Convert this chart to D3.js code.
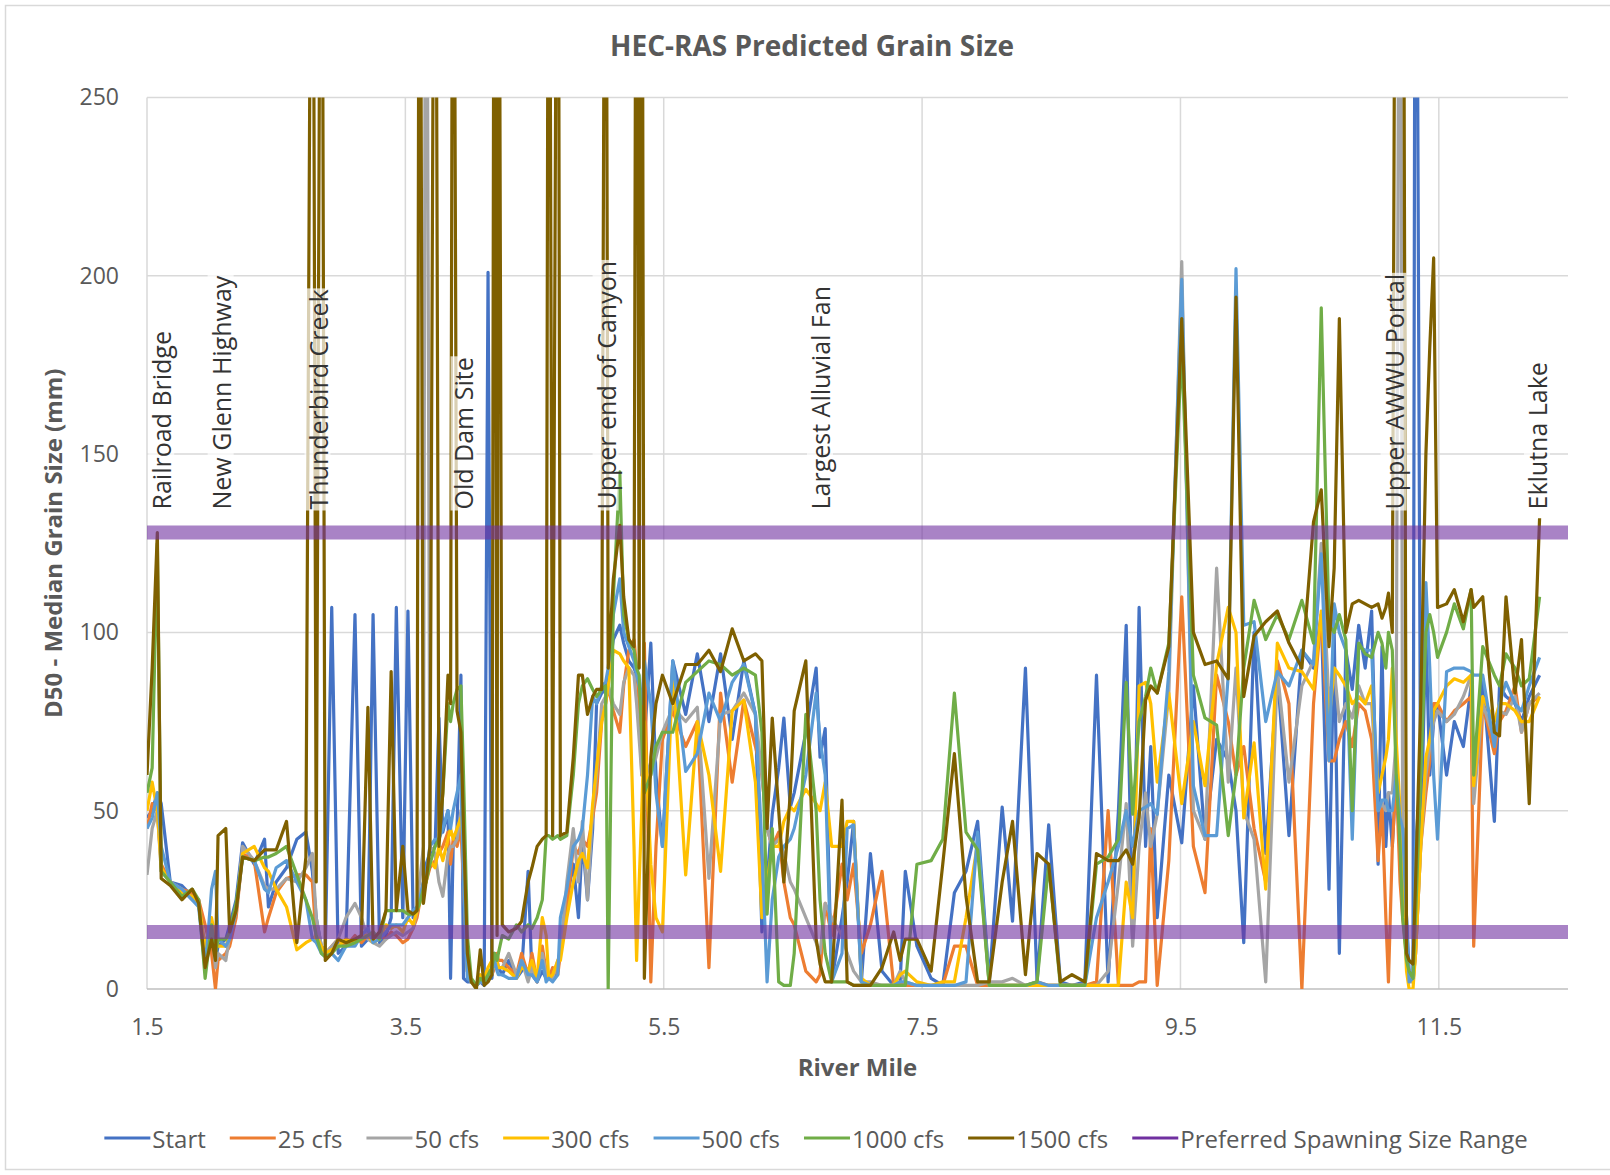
<!DOCTYPE html>
<html>
<head>
<meta charset="utf-8">
<script src="https://cdn.jsdelivr.net/npm/d3@7"></script>
<style>
  body { margin: 0; background: #fff; }
  svg text { font-family: "Liberation Sans Narrow", "Open Sans", sans-serif; }
</style>
</head>
<body>
<svg id="chart" width="1610" height="1175"></svg>
<script>
// cross sections (river mile)
const riverMile = [
  1.50, 1.54, 1.58, 1.61, 1.68, 1.77, 1.85, 1.90, 1.95, 2.00,
  2.03, 2.05, 2.11, 2.14, 2.19, 2.24, 2.33, 2.41, 2.44, 2.50,
  2.58, 2.66, 2.73, 2.78, 2.81, 2.85, 2.88, 2.93, 2.98, 3.04,
  3.11, 3.16, 3.21, 3.25, 3.30, 3.35, 3.39, 3.43, 3.48, 3.52,
  3.56, 3.59, 3.61, 3.64, 3.66, 3.69, 3.73, 3.76, 3.79, 3.83,
  3.85, 3.87, 3.90, 3.93, 3.95, 3.98, 4.01, 4.05, 4.08, 4.11,
  4.14, 4.17, 4.19, 4.21, 4.22, 4.25, 4.30, 4.36, 4.40, 4.45,
  4.48, 4.52, 4.56, 4.59, 4.61, 4.64, 4.68, 4.70, 4.75, 4.80,
  4.84, 4.87, 4.91, 4.95, 4.98, 5.02, 5.05, 5.07, 5.11, 5.16,
  5.19, 5.23, 5.27, 5.29, 5.31, 5.33, 5.35, 5.40, 5.44, 5.49,
  5.57, 5.67, 5.76, 5.85, 5.94, 6.03, 6.12, 6.21, 6.26, 6.30,
  6.34, 6.39, 6.43, 6.48, 6.51, 6.60, 6.68, 6.71, 6.75, 6.80,
  6.88, 6.92, 6.97, 7.03, 7.10, 7.19, 7.28, 7.33, 7.37, 7.46,
  7.57, 7.66, 7.75, 7.84, 7.93, 8.02, 8.12, 8.20, 8.30, 8.39,
  8.48, 8.57, 8.66, 8.76, 8.85, 8.94, 9.02, 9.08, 9.13, 9.18,
  9.23, 9.27, 9.32, 9.41, 9.51, 9.60, 9.69, 9.78, 9.87, 9.93,
  9.99, 10.07, 10.16, 10.25, 10.34, 10.44, 10.53, 10.59, 10.65, 10.69,
  10.73, 10.78, 10.83, 10.88, 10.93, 10.98, 11.03, 11.06, 11.09, 11.11,
  11.14, 11.17, 11.20, 11.22, 11.25, 11.27, 11.30, 11.32, 11.36, 11.40,
  11.43, 11.46, 11.49, 11.56, 11.62, 11.69, 11.75, 11.77, 11.84, 11.93,
  11.97, 12.02, 12.09, 12.14, 12.20, 12.28
];

const startVals = [
  48, 50, 55, 52, 30, 29, 26, 25, 10, 15,
  8, 12, 14, 18, 25, 41, 35, 42, 23, 30,
  34, 42, 44, 33, 20, 12, 10, 107, 10, 12,
  105, 12, 14, 105, 13, 15, 20, 107, 20, 106,
  20, 21, 25, 30, 35, 38, 40, 76, 44, 50,
  3, 40, 45, 88, 3, 2, 2, 1, 2, 1,
  201, 3, 10, 8, 6, 4, 8, 3, 5, 33,
  4, 2, 5, 3, 3, 3, 5, 12, 25, 35,
  20, 42, 25, 45, 80, 83, 84, 88, 98, 102,
  97, 92, 90, 88, 85, 80, 70, 97, 60, 40,
  92, 77, 94, 75, 94, 70, 92, 77, 16, 30,
  49, 62, 76, 51, 55, 72, 90, 65, 73, 2,
  20, 30, 47, 2, 38, 5, 1, 2, 33, 12,
  3, 1, 27, 33, 47, 2, 51, 19, 90, 2,
  46, 2, 1, 2, 88, 2, 50, 102, 14, 107,
  40, 68, 20, 60, 41, 85, 42, 70, 64, 50,
  13, 100, 38, 89, 43, 95, 90, 105, 28, 100,
  10, 95, 84, 102, 90, 106, 35, 96, 40, 55,
  40, 60, 50, 45, 20, 5, 3, 400, 42, 100,
  60, 75, 80, 60, 75, 68, 85, 60, 87, 47,
  85, 82, 80, 75, 82, 88
];

const cfs25 = [
  45, 52, 50, 35, 30, 28, 27, 25, 18, 10,
  0, 8, 10, 12, 20, 38, 36, 16, 20, 27,
  31, 32, 32, 30, 14, 12, 10, 12, 14, 12,
  15, 13, 15, 14, 15, 14, 16, 15, 13, 14,
  17, 20, 24, 28, 30, 34, 36, 38, 40, 44,
  35, 42, 40, 45, 30, 5, 2, 1, 3, 2,
  5, 4, 6, 10, 8, 8, 6, 4, 10, 4,
  10, 2, 12, 5, 3, 6, 4, 10, 22, 40,
  38, 42, 40, 48, 55, 75, 80, 85, 78, 72,
  85, 95, 98, 90, 80, 60, 97, 2, 40, 70,
  78, 68, 75, 6, 83, 58, 81, 68, 60, 45,
  40, 44, 30, 20, 18, 5, 2, 4, 24, 15,
  35, 25, 35, 10, 18, 33, 1, 2, 1, 1,
  1, 1, 12, 12, 1, 1, 1, 1, 1, 2,
  1, 1, 1, 1, 2, 50, 1, 1, 1, 2,
  2, 45, 1, 36, 110, 40, 27, 88, 75, 60,
  68, 45, 30, 92, 80, 0, 80, 105, 64, 64,
  70, 75, 68, 80, 78, 70, 36, 52, 20, 2,
  40, 60, 30, 20, 10, 3, 2, 10, 40, 55,
  64, 80, 80, 75, 78, 80, 82, 12, 80, 66,
  75, 78, 85, 72, 80, 82
];

const cfs50 = [
  32, 45, 50, 33, 30, 28, 25, 24, 8, 18,
  6, 10, 8, 15, 22, 40, 36, 29, 28, 28,
  31, 30, 34, 38, 20, 12, 10, 12, 14, 20,
  24, 20, 14, 13, 12, 14, 15, 16, 15, 16,
  17, 22, 30, 40, 400, 40, 38, 30, 26, 38,
  40, 40, 42, 50, 45, 5, 2, 1, 2, 2,
  4, 4, 8, 6, 6, 6, 10, 4, 8, 2,
  6, 2, 10, 4, 3, 3, 8, 10, 30, 45,
  30, 47, 25, 50, 60, 80, 82, 85, 80, 77,
  86, 90, 88, 80, 70, 60, 65, 60, 65, 72,
  79, 75, 79, 31, 77, 78, 83, 77, 60, 45,
  40, 42, 38, 30, 28, 20, 13, 10, 24, 20,
  15, 10, 5, 2, 2, 1, 1, 5, 2, 1,
  1, 1, 1, 1, 1, 2, 2, 3, 1, 1,
  1, 1, 1, 1, 1, 5, 30, 52, 12, 40,
  55, 40, 49, 83, 204, 50, 42, 118, 58, 90,
  50, 42, 2, 89, 58, 85, 92, 125, 80, 90,
  75, 80, 76, 85, 80, 80, 50, 52, 50, 55,
  55, 70, 400, 40, 10, 2, 2, 10, 40, 60,
  68, 75, 78, 75, 77, 82, 88, 52, 80, 70,
  78, 77, 82, 72, 80, 83
];

const cfs300 = [
  50, 58, 50, 34, 30, 27, 26, 24, 12, 20,
  14, 12, 12, 15, 22, 38, 40, 34, 33, 28,
  23, 11, 13, 14, 15, 12, 10, 11, 12, 14,
  13, 15, 15, 13, 14, 18, 17, 18, 16, 20,
  18, 22, 24, 28, 30, 36, 34, 40, 36, 42,
  45, 42, 45, 48, 40, 5, 2, 1, 4, 3,
  6, 8, 6, 8, 6, 6, 5, 3, 6, 5,
  8, 3, 20, 15, 3, 4, 8, 8, 20, 30,
  36, 38, 34, 52, 62, 75, 80, 85, 95, 94,
  92, 90, 40, 8, 30, 50, 75, 35, 20, 16,
  90, 32, 75, 60, 33, 78, 81, 58, 20, 30,
  40, 40, 47, 51, 50, 56, 52, 50, 58, 40,
  40, 47, 47, 3, 1, 1, 1, 4, 5, 2,
  1, 2, 2, 20, 41, 1, 1, 1, 1, 1,
  1, 1, 1, 1, 1, 1, 1, 30, 20, 85,
  86, 80, 58, 83, 52, 75, 57, 91, 107, 100,
  48, 69, 28, 97, 90, 89, 84, 106, 75, 90,
  88, 85, 80, 82, 80, 85, 55, 60, 65, 70,
  90, 70, 50, 30, 5, 0, 0, 10, 40, 65,
  70, 78, 80, 85, 87, 86, 88, 57, 82, 75,
  80, 80, 78, 75, 75, 82
];

const cfs500 = [
  45, 48, 55, 40, 30, 28, 25, 23, 5, 28,
  33, 14, 12, 14, 22, 37, 36, 28, 27, 34,
  36, 30, 25, 14, 13, 10, 9, 10, 8, 12,
  12, 15, 17, 13, 14, 16, 18, 18, 18, 20,
  22, 23, 25, 30, 32, 40, 42, 42, 45, 50,
  45, 50, 55, 60, 30, 3, 2, 1, 2, 2,
  3, 5, 8, 5, 4, 4, 3, 3, 8, 4,
  4, 2, 8, 2, 3, 2, 4, 20, 28, 40,
  42, 45, 60, 82, 80, 85, 86, 90, 105, 115,
  100, 96, 92, 88, 85, 80, 92, 80, 55, 40,
  92, 61, 66, 83, 75, 86, 91, 77, 40, 2,
  25, 37, 40, 42, 45, 60, 83, 70, 60, 2,
  10, 45, 46, 2, 1, 1, 1, 2, 2, 1,
  1, 1, 1, 2, 44, 1, 1, 1, 1, 2,
  1, 1, 1, 1, 20, 30, 40, 50, 40, 50,
  51, 52, 49, 89, 199, 57, 43, 43, 88, 202,
  102, 103, 75, 89, 85, 95, 91, 122, 64, 108,
  100, 95, 42, 96, 95, 95, 50, 53, 53, 50,
  50, 60, 48, 45, 20, 2, 3, 40, 60, 114,
  90, 60, 42, 89, 90, 90, 89, 88, 88, 68,
  80, 86, 80, 78, 85, 93
];

const cfs1000 = [
  55, 62, 125, 33, 30, 26, 28, 25, 3, 18,
  10, 14, 14, 16, 24, 37, 36, 37, 37, 38,
  40, 32, 25, 20, 15, 10, 9, 10, 12, 12,
  13, 14, 15, 16, 14, 22, 22, 22, 22, 21,
  21, 22, 24, 28, 30, 35, 40, 42, 55, 80,
  75, 80, 84, 85, 60, 15, 3, 1, 3, 2,
  4, 6, 10, 8, 10, 15, 14, 18, 16, 18,
  17, 20, 25, 43, 43, 42, 43, 42, 43, 60,
  80, 85, 87, 84, 82, 84, 85, 0, 110, 145,
  105, 98, 95, 90, 88, 70, 55, 60, 68, 72,
  72, 86, 89, 92, 91, 88, 90, 88, 72, 21,
  45, 2, 1, 1, 10, 77, 50, 25, 10, 2,
  2, 2, 1, 1, 1, 1, 1, 1, 1, 35,
  36, 42, 83, 44, 39, 1, 1, 1, 1, 2,
  35, 1, 1, 1, 35, 37, 42, 86, 49, 75,
  82, 90, 83, 97, 180, 88, 76, 74, 43, 60,
  90, 109, 98, 105, 98, 109, 97, 191, 102, 100,
  105, 98, 50, 97, 94, 93, 100, 97, 90, 100,
  95, 60, 40, 20, 8, 5, 3, 20, 60, 100,
  105, 100, 93, 100, 108, 101, 112, 60, 96, 88,
  85, 94, 90, 85, 87, 110
];

const cfs1500 = [
  60, 90, 128, 31, 29, 25, 28, 24, 6, 14,
  8, 43, 45, 16, 22, 37, 36, 39, 39, 39,
  47, 13, 37, 400, 30, 400, 8, 10, 14, 13,
  14, 15, 79, 14, 16, 22, 89, 22, 40, 22,
  21, 22, 400, 24, 30, 40, 400, 40, 55, 88,
  80, 400, 78, 72, 45, 10, 2, 0, 11, 1,
  2, 4, 400, 15, 400, 18, 16, 17, 19, 30,
  34, 40, 42, 43, 400, 43, 400, 43, 44, 65,
  88, 88, 77, 82, 84, 84, 400, 90, 115, 130,
  110, 98, 96, 400, 90, 400, 3, 65, 80, 88,
  80, 91, 91, 95, 89, 101, 92, 94, 92, 45,
  76, 50, 30, 55, 78, 92, 14, 7, 2, 2,
  53, 2, 1, 1, 1, 6, 16, 8, 14, 14,
  5, 35, 66, 26, 2, 2, 30, 47, 4, 38,
  35, 2, 4, 2, 38, 36, 36, 39, 35, 48,
  81, 85, 83, 96, 188, 100, 91, 92, 87, 194,
  82, 99, 103, 106, 97, 90, 131, 140, 96, 118,
  188, 100, 108, 109, 108, 107, 108, 104, 107, 111,
  100, 400, 400, 400, 10, 8, 7, 30, 80, 150,
  180, 205, 107, 108, 112, 103, 112, 107, 110, 72,
  71, 110, 83, 98, 52, 132
];

const spawnRange = [16, 128];
const seriesNames = ["Start", "25 cfs", "50 cfs", "300 cfs", "500 cfs", "1000 cfs", "1500 cfs"];
const spawnName = "Preferred Spawning Size Range";
const yTicks = [0, 50, 100, 150, 200, 250];
const xTicks = [1.5, 3.5, 5.5, 7.5, 9.5, 11.5];
const siteNames = ["Railroad Bridge", "New Glenn Highway", "Thunderbird Creek", "Old Dam Site",
  "Upper end of Canyon", "Largest Alluvial Fan", "Upper AWWU Portal", "Eklutna Lake"];
const siteMiles = [1.61, 2.07, 2.82, 3.95, 5.05, 6.71, 11.15, 12.26];

const seriesColors = ["#4472c4", "#ed7d31", "#a5a5a5", "#ffc000", "#5b9bd5", "#70ad47", "#7f6000"];
const spawnColor = "#7030a0";
const textColor = "#595959";

const allSeries = [startVals, cfs25, cfs50, cfs300, cfs500, cfs1000, cfs1500];

const dims = {
  width: 1610,
  height: 1175,
  margins: { top: 97.5, right: 42, bottom: 186, left: 147 }
};
dims.boundedWidth = dims.width - dims.margins.left - dims.margins.right;
dims.boundedHeight = dims.height - dims.margins.top - dims.margins.bottom;

const svg = d3.select("#chart");

svg.append("rect")
  .attr("x", 5.5).attr("y", 5.5)
  .attr("width", 1620).attr("height", 1164)
  .attr("fill", "none")
  .attr("stroke", "#d9d9d9")
  .attr("stroke-width", 1.5);

const xScale = d3.scaleLinear()
  .domain([1.5, 12.5])
  .range([0, dims.boundedWidth]);

const yScale = d3.scaleLinear()
  .domain([0, 250])
  .range([dims.boundedHeight, 0]);

const graph = svg.append("g")
  .attr("transform", `translate(${dims.margins.left},${dims.margins.top})`);

// gridlines
graph.append("g").selectAll("line")
  .data(yTicks.filter(d => d > 0))
  .join("line")
  .attr("x1", 0).attr("x2", dims.boundedWidth)
  .attr("y1", d => yScale(d)).attr("y2", d => yScale(d))
  .attr("stroke", "#d9d9d9").attr("stroke-width", 1.5);

graph.append("g").selectAll("line")
  .data(xTicks)
  .join("line")
  .attr("x1", d => xScale(d)).attr("x2", d => xScale(d))
  .attr("y1", 0).attr("y2", dims.boundedHeight)
  .attr("stroke", "#d9d9d9").attr("stroke-width", 1.5);

graph.append("line")
  .attr("x1", 0).attr("x2", dims.boundedWidth)
  .attr("y1", yScale(0)).attr("y2", yScale(0))
  .attr("stroke", "#bfbfbf").attr("stroke-width", 1.5);

// axes (labels only)
const yAxis = graph.append("g")
  .call(d3.axisLeft(yScale).tickValues(yTicks).tickSize(0).tickPadding(28));
yAxis.select(".domain").remove();
yAxis.selectAll("text")
  .attr("fill", textColor)
  .style("font-size", "23px");

const xAxis = graph.append("g")
  .attr("transform", `translate(0,${dims.boundedHeight})`)
  .call(d3.axisBottom(xScale).tickValues(xTicks).tickFormat(d3.format(".1f")).tickSize(0).tickPadding(30));
xAxis.select(".domain").remove();
xAxis.selectAll("text")
  .attr("fill", textColor)
  .style("font-size", "23px");

// series lines
svg.append("defs").append("clipPath").attr("id", "plotClip")
  .append("rect")
  .attr("x", 0).attr("y", 0)
  .attr("width", dims.boundedWidth).attr("height", dims.boundedHeight);

const plot = graph.append("g").attr("clip-path", "url(#plotClip)");

const lineGen = d3.line()
  .x(d => xScale(d[0]))
  .y(d => yScale(d[1]));

allSeries.forEach((vals, i) => {
  plot.append("path")
    .datum(riverMile.map((m, j) => [m, vals[j]]))
    .attr("d", lineGen)
    .attr("fill", "none")
    .attr("stroke", seriesColors[i])
    .attr("stroke-width", 3.2)
    .attr("stroke-linejoin", "round");
});

// site labels with translucent backgrounds
const labels = graph.append("g");
siteNames.forEach((name, i) => {
  const g = labels.append("g")
    .attr("transform", `translate(${xScale(siteMiles[i])},412) rotate(-90)`);
  const bg = g.append("rect");
  const t = g.append("text")
    .attr("x", 0).attr("y", 0)
    .attr("dominant-baseline", "central")
    .attr("fill", "#333333")
    .style("font-size", "25px")
    .text(name);
  const len = t.node().getComputedTextLength();
  bg.attr("x", -1).attr("y", -13)
    .attr("width", len + 2).attr("height", 26)
    .attr("fill", "#ffffff").attr("fill-opacity", 0.7);
});

// preferred spawning size range band
spawnRange.forEach(v => {
  plot.append("path")
    .datum([[1.5, v], [12.5, v]])
    .attr("d", lineGen)
    .attr("fill", "none")
    .attr("stroke", spawnColor)
    .attr("stroke-opacity", 0.6)
    .attr("stroke-width", 14);
});

// titles
svg.append("text")
  .attr("x", 812).attr("y", 56)
  .attr("text-anchor", "middle")
  .attr("fill", textColor)
  .style("font-size", "28px").style("font-weight", "bold")
  .text("HEC-RAS Predicted Grain Size");

svg.append("text")
  .attr("x", dims.margins.left + dims.boundedWidth / 2)
  .attr("y", 1076)
  .attr("text-anchor", "middle")
  .attr("fill", textColor)
  .style("font-size", "24px").style("font-weight", "bold")
  .text("River Mile");

svg.append("text")
  .attr("transform", `translate(62,${dims.margins.top + dims.boundedHeight / 2}) rotate(-90)`)
  .attr("text-anchor", "middle")
  .attr("fill", textColor)
  .style("font-size", "24px").style("font-weight", "bold")
  .text("D50 - Median Grain Size (mm)");

// legend
const legendItems = seriesNames.map((n, i) => ({ name: n, color: seriesColors[i] }))
  .concat([{ name: spawnName, color: spawnColor }]);
const legend = svg.append("g");
const legendGap = 24;
let lx = 0;
legendItems.forEach(item => {
  const g = legend.append("g").attr("transform", `translate(${lx},0)`);
  g.append("line")
    .attr("x1", 0).attr("x2", 46)
    .attr("y1", 0).attr("y2", 0)
    .attr("stroke", item.color).attr("stroke-width", 3);
  const t = g.append("text")
    .attr("x", 48).attr("y", 0)
    .attr("dominant-baseline", "central")
    .attr("fill", textColor)
    .style("font-size", "24px")
    .text(item.name);
  lx += 48 + t.node().getComputedTextLength() + legendGap;
});
lx -= legendGap;
legend.attr("transform", `translate(${816 - lx / 2},1138)`);
</script>
</body>
</html>
